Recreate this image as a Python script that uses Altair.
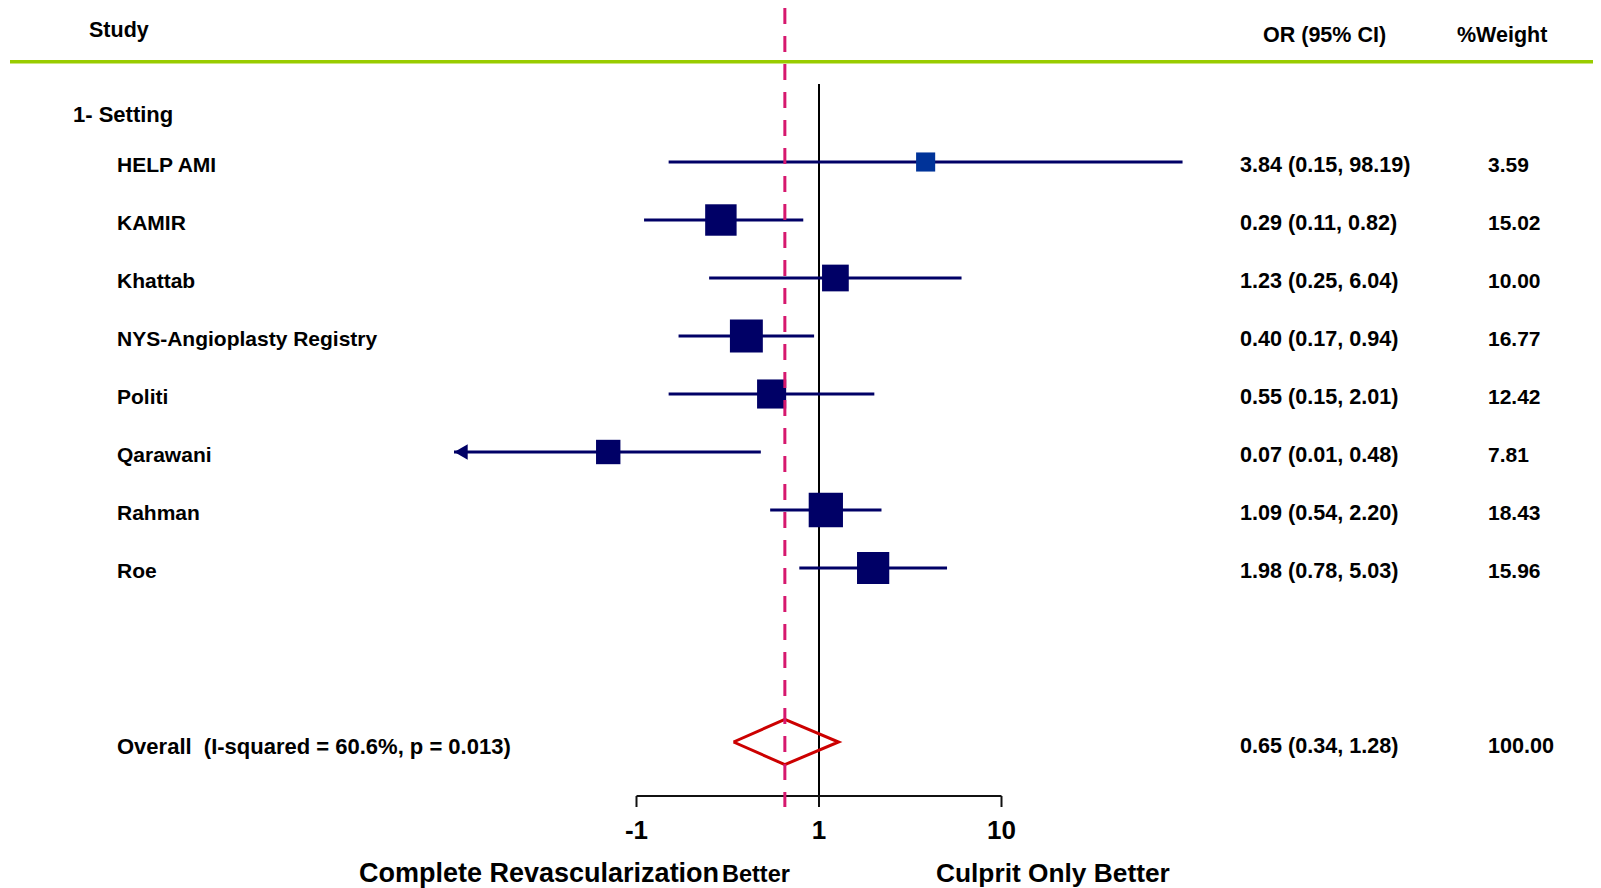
import altair as alt
import pandas as pd

# ---------------- data ----------------
studies = ["HELP AMI", "KAMIR", "Khattab", "NYS-Angioplasty Registry",
           "Politi", "Qarawani", "Rahman", "Roe"]
odds_ratio = [3.84, 0.29, 1.23, 0.40, 0.55, 0.07, 1.09, 1.98]
ci_low = [0.15, 0.11, 0.25, 0.17, 0.15, 0.01, 0.54, 0.78]
ci_high = [98.19, 0.82, 6.04, 0.94, 2.01, 0.48, 2.20, 5.03]
weight = [3.59, 15.02, 10.00, 16.77, 12.42, 7.81, 18.43, 15.96]
or_text = ["3.84 (0.15, 98.19)", "0.29 (0.11, 0.82)", "1.23 (0.25, 6.04)",
           "0.40 (0.17, 0.94)", "0.55 (0.15, 2.01)", "0.07 (0.01, 0.48)",
           "1.09 (0.54, 2.20)", "1.98 (0.78, 5.03)"]
weight_text = ["3.59", "15.02", "10.00", "16.77", "12.42", "7.81", "18.43", "15.96"]
rows = [1, 2, 3, 4, 5, 6, 7, 8]

overall_label = "Overall\u00a0\u00a0(I-squared = 60.6%, p = 0.013)"
overall_low, overall_est, overall_high = 0.34, 0.65, 1.28
overall_row = 11
overall_or_text = "0.65 (0.34, 1.28)"
overall_weight_text = "100.00"

axis_ticks = [0.1, 1, 10]
axis_tick_labels = ["-1", "1", "10"]

# ---------------- layout ----------------
W, H = 1585, 880
X0, DEC = 811.0, 182.5          # chart px of OR=1, px per decade
Y0, ROW = 154.0, 58.0           # chart px of row 1, px per row
xs = alt.Scale(type="log", nice=False, zero=False,
               domain=[10 ** (-X0 / DEC), 10 ** ((W - X0) / DEC)])
ys = alt.Scale(nice=False, zero=False, reverse=True,
               domain=[1 - Y0 / ROW, 1 + (H - Y0) / ROW])

FONT = "Liberation Sans"
NAVY = "#000066"

df = pd.DataFrame({"study": studies, "est": odds_ratio, "lo": ci_low,
                   "hi": ci_high, "w": weight, "ortxt": or_text,
                   "wtxt": weight_text, "row": rows})

X = lambda f: alt.X(f, scale=xs, axis=None)
Y = lambda f: alt.Y(f, scale=ys, axis=None)

ci = alt.Chart(df).mark_rule(color=NAVY, strokeWidth=3).encode(
    x=X("lo:Q"), x2="hi:Q", y=Y("row:Q"))

arrow = alt.Chart(df).transform_filter("datum.lo < 0.05").mark_point(
    shape="triangle-left", filled=True, opacity=1, color=NAVY, size=240,
    xOffset=7).encode(x=X("lo:Q"), y=Y("row:Q"))

squares = alt.Chart(df).mark_square(opacity=1, filled=True).encode(
    x=X("est:Q"), y=Y("row:Q"),
    size=alt.Size("w:Q", scale=alt.Scale(domain=[0, 20], range=[169, 1260]), legend=None),
    color=alt.condition("datum.study == 'HELP AMI'", alt.value("#003399"), alt.value(NAVY)))

diamond_df = pd.DataFrame({
    "x": [overall_low, overall_est, overall_high, overall_est, overall_low],
    "row": [overall_row, overall_row - 0.39, overall_row, overall_row + 0.39, overall_row],
    "o": [0, 1, 2, 3, 4]})
diamond = alt.Chart(diamond_df).mark_line(color="#CC0000", strokeWidth=3,
                                          strokeJoin="miter").encode(
    x=X("x:Q"), y=Y("row:Q"), order="o:O")

ref_line = alt.Chart(pd.DataFrame({"x": [1]})).mark_rule(
    color="black", strokeWidth=2).encode(
    x=X("x:Q"), y=alt.value(76), y2=alt.value(799))

dash_line = alt.Chart(pd.DataFrame({"x": [overall_est]})).mark_rule(
    color="#D6186E", strokeWidth=3, strokeDash=[16, 12]).encode(
    x=X("x:Q"), y=alt.value(0), y2=alt.value(799))

green = alt.Chart(pd.DataFrame({"a": [0]})).mark_rule(
    color="#99CC00", strokeWidth=3.5).encode(
    x=alt.value(2), x2=alt.value(W), y=alt.value(53.7))

axis_df = pd.DataFrame({"lo": [min(axis_ticks)], "hi": [max(axis_ticks)]})
axis_line = alt.Chart(axis_df).mark_rule(color="#111", strokeWidth=2).encode(
    x=X("lo:Q"), x2="hi:Q", y=alt.value(788))
tick_df = pd.DataFrame({"t": axis_ticks, "lab": axis_tick_labels})
ticks = alt.Chart(tick_df).mark_rule(color="#111", strokeWidth=2).encode(
    x=X("t:Q"), y=alt.value(788), y2=alt.value(799))
tick_labels = alt.Chart(tick_df).mark_text(
    font=FONT, fontSize=26, fontWeight="bold", baseline="middle", align="center",
    color="black").encode(x=X("t:Q"), y=alt.value(823), text="lab:N")

def text_col(field, xpx, size=21):
    return alt.Chart(df).mark_text(
        font=FONT, fontSize=size, fontWeight="bold", align="left",
        baseline="middle", dy=4, color="black").encode(
        x=alt.value(xpx), y=Y("row:Q"), text=f"{field}:N")

names = text_col("study", 109)
ors = text_col("ortxt", 1232, 21.6)
wts = text_col("wtxt", 1480)

ov_df = pd.DataFrame({"row": [overall_row], "lab": [overall_label],
                      "ortxt": [overall_or_text], "wtxt": [overall_weight_text]})

def ov_col(field, xpx, size):
    return alt.Chart(ov_df).mark_text(
        font=FONT, fontSize=size, fontWeight="bold", align="left",
        baseline="middle", dy=5, color="black").encode(
        x=alt.value(xpx), y=Y("row:Q"), text=f"{field}:N")

ov_texts = ov_col("lab", 109, 22) + ov_col("ortxt", 1232, 21.6) + ov_col("wtxt", 1480, 21.6)

def fixed_text(txt, xpx, ypx, size=21):
    return alt.Chart(pd.DataFrame({"t": [txt]})).mark_text(
        font=FONT, fontSize=size, fontWeight="bold", align="left",
        baseline="middle", color="black").encode(
        x=alt.value(xpx), y=alt.value(ypx), text="t:N")

headers = (fixed_text("Study", 81, 23, 21.5) +
           fixed_text("OR (95% CI)", 1255, 28, 21.5) +
           fixed_text("%Weight", 1449, 28, 21.5) +
           fixed_text("1- Setting", 65, 107, 22))

bottom = (fixed_text("Complete Revascularization", 351, 866, 27) +
          fixed_text("Better", 714, 867, 23.5) +
          fixed_text("Culprit Only Better", 928, 866, 26.3))

chart = alt.layer(
    green, ref_line, ci, arrow, squares, diamond, axis_line, ticks, dash_line,
    tick_labels, names, ors, wts, ov_texts, headers, bottom
).properties(
    width=W, height=H, padding=0, autosize=alt.AutoSizeParams(type="none")
).configure_view(stroke=None)

chart.save("out.html", embed_options={"renderer": "svg", "actions": False})
